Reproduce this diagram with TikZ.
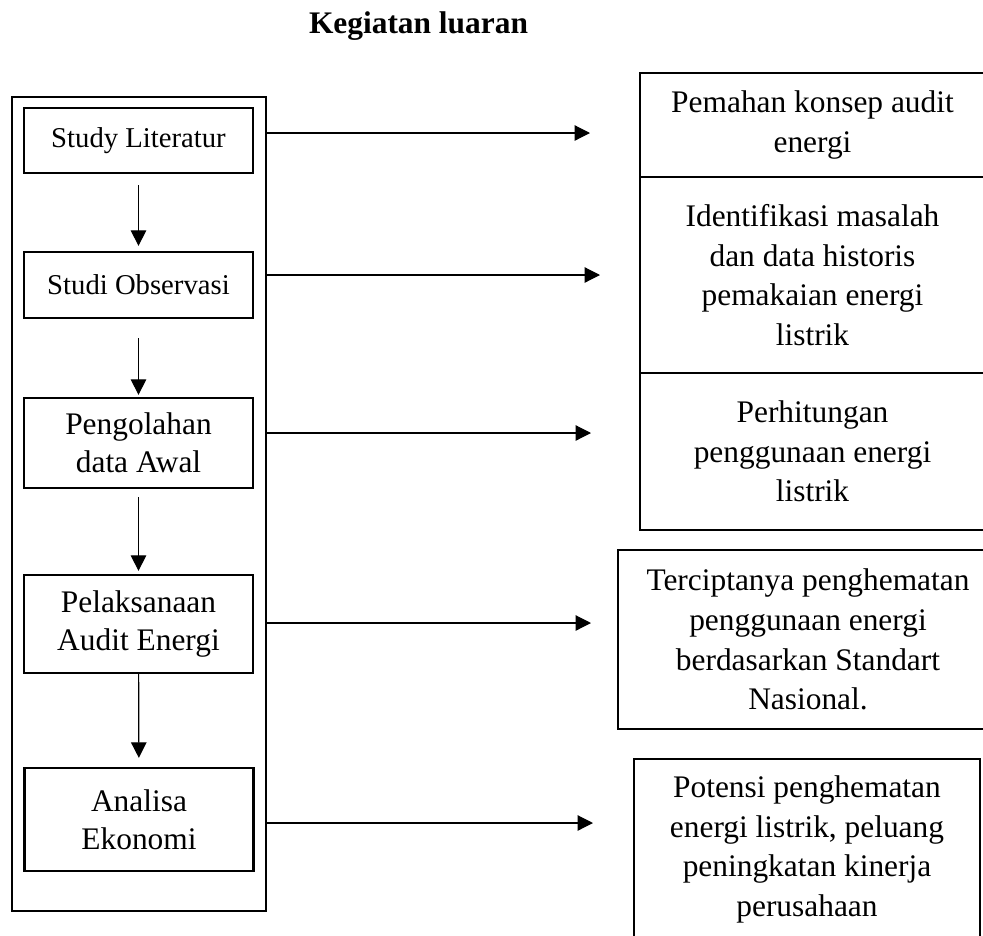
\documentclass[tikz,border=0pt]{standalone}
\usepackage{fontspec}
\setmainfont{Liberation Serif}
\usetikzlibrary{arrows.meta}

\tikzset{
  stepbox/.style={draw, line width=2.3pt, minimum width=229pt, align=center, inner sep=0pt,
    font=\fontsize{31.4}{38}\selectfont},
  smalltext/.style={font=\fontsize{28.7}{34}\selectfont},
  outcell/.style={draw, line width=2.3pt, align=center, inner sep=0pt,
    font=\fontsize{31.4}{39.7}\selectfont},
  flow/.style={-{Triangle[length=15.5pt, width=15.5pt]}, line width=1.2pt}
}

\begin{document}
\begin{tikzpicture}[x=1pt, y=-1pt]
            \useasboundingbox (0,0) rectangle (983,935);

            % Title
            \node[anchor=base, font=\bfseries\fontsize{31.4}{38}\selectfont] (title) at (418.5,33) {Kegiatan luaran};

            % Frame round the steps
            \node[draw, line width=2.3pt, minimum width=254pt, minimum height=814pt] (frame) at (139,504) {};

            % Steps
            \node[stepbox, smalltext, minimum height=65pt] (lit) at (138.5,140.5) {Study Literatur};
            \node[stepbox, smalltext, minimum height=66pt] (obs) at (138.5,285) {Studi Observasi};
            \node[stepbox, minimum height=90pt] (olah) at (138.5,443) {Pengolahan\\data Awal};
            \node[stepbox, minimum height=98pt] (laks) at (138.5,624) {Pelaksanaan\\Audit Energi};
            \node[stepbox, minimum height=103pt] (eko) at (139,819.5) {Analisa\\Ekonomi};

            % Arrows between the steps
            \draw[flow, shorten <=11pt, shorten >=5pt] (lit) -- (obs);
            \draw[flow, shorten <=19pt, shorten >=2pt] (obs) -- (olah);
            \draw[flow, shorten <=8pt, shorten >=3pt] (olah) -- (laks);
            \draw[flow, shorten >=9pt] (laks) -- (eko);

            % Outputs
            \node[outcell, minimum width=345pt, minimum height=104pt] (out1) at (812.5,125) {Pemahan konsep audit\\energi};
            \node[outcell, minimum width=345pt, minimum height=196pt] (out2) at (812.5,275) {Identifikasi masalah\\dan data historis\\pemakaian energi\\listrik};
            \node[outcell, minimum width=345pt, minimum height=157pt] (out3) at (812.5,451.5) {Perhitungan\\penggunaan energi\\listrik};
            \node[outcell, minimum width=380pt, minimum height=179pt] (out4) at (808,639.5) {Terciptanya penghematan\\penggunaan energi\\berdasarkan Standart\\Nasional.};
            \node[outcell, minimum width=346pt, minimum height=181pt] (out5) at (807,849.5) {Potensi penghematan\\energi listrik, peluang\\peningkatan kinerja\\perusahaan};

            % Arrows to the outputs
            \coordinate (tip1) at (590,133);
            \coordinate (tip2) at (600,275);
            \coordinate (tip3) at (591,433);
            \coordinate (tip4) at (591,623);
            \coordinate (tip5) at (593,823);
            \draw[flow] (frame.east |- tip1) -- (tip1);
            \draw[flow] (frame.east |- tip2) -- (tip2);
            \draw[flow] (frame.east |- tip3) -- (tip3);
            \draw[flow] (frame.east |- tip4) -- (tip4);
            \draw[flow] (frame.east |- tip5) -- (tip5);
        \end{tikzpicture}
\end{document}
